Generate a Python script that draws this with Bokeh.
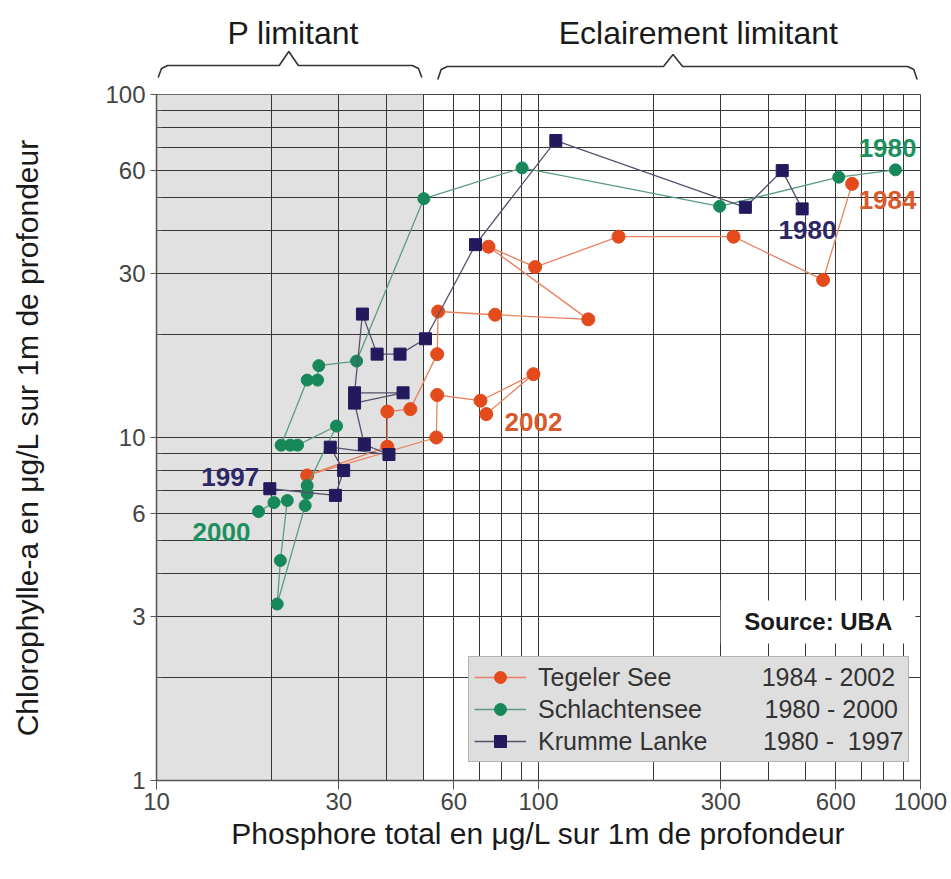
import math
from bokeh.plotting import figure
from bokeh.layouts import column
from bokeh.models import (Range1d, FixedTicker, BoxAnnotation, Label, Legend,
                          LegendItem, BasicTickFormatter)
from bokeh.embed import file_html
from bokeh.resources import INLINE

# ---------------- data ----------------
# Tegeler See 1984 -> 2002
teg_p = [662, 556, 324, 162, 98, 74, 135, 77, 54.6, 54.3, 46.2, 40.2, 40.2, 24.8, 54, 54.3, 70.5, 97, 73]
teg_chl = [54.9, 28.8, 38.5, 38.5, 31.4, 36.0, 22.1, 22.8, 23.3, 17.5, 12.1, 11.9, 9.4, 7.75, 10.0, 13.3, 12.8, 15.3, 11.7]
# Schlachtensee 1980 -> 2000
sch_p = [860, 611, 298, 90.6, 50.1, 33.4, 26.6, 26.4, 24.8, 21.2, 22.4, 23.4, 29.6, 24.8, 24.8, 24.5, 20.7, 21.1, 22.0, 20.3, 18.5]
sch_chl = [60.3, 57.4, 47.2, 61.1, 49.7, 16.7, 16.2, 14.7, 14.7, 9.5, 9.5, 9.5, 10.8, 7.24, 6.87, 6.33, 3.27, 4.38, 6.55, 6.46, 6.08]
# Krumme Lanke 1980 -> 1997
kru_p = [490, 434.5, 348, 111, 68.4, 50.6, 43.4, 37.8, 34.6, 33.0, 44.2, 33.0, 35.0, 40.6, 28.5, 30.9, 29.4, 19.8]
kru_chl = [46.4, 60.0, 46.9, 73.4, 36.5, 19.4, 17.5, 17.5, 22.9, 13.5, 13.5, 12.6, 9.54, 8.92, 9.37, 8.01, 6.78, 7.09]

series_names = ["Tegeler See", "Schlachtensee", "Krumme Lanke"]
series_years = ["1984 - 2002", "1980 - 2000", "1980 -  1997"]

x_ticks = [10, 30, 60, 100, 300, 600, 1000]
x_tick_labels = ["10", "30", "60", "100", "300", "600", "1000"]
y_ticks = [1, 3, 6, 10, 30, 60, 100]
y_tick_labels = ["1", "3", "6", "10", "30", "60", "100"]

p_limit_max = 50  # upper P value of the "P limitant" zone

FONT = "Liberation Sans"
C_TEG, C_TEG_L = "#e44b1c", "#e8825f"
C_SCH, C_SCH_L = "#17885a", "#5c9c80"
C_KRU, C_KRU_L = "#221a5c", "#55516e"

grid_x = [k * 10 ** e for e in (1, 2) for k in range(1, 10)] + [1000]
grid_y = [k * 10 ** e for e in (0, 1) for k in range(1, 10)] + [100]
y_minor = [g for g in grid_y if g not in y_ticks]

# ---------------- main plot ----------------
p = figure(width=951, height=799, x_axis_type="log", y_axis_type="log",
           x_range=Range1d(10, 1000), y_range=Range1d(1, 100),
           output_backend="svg", toolbar_location=None,
           min_border_left=156, min_border_right=31, min_border_top=14, min_border_bottom=99,
           background_fill_color="white", border_fill_color="white")
p.outline_line_color = "#444444"

p.add_layout(BoxAnnotation(left=10, right=p_limit_max, fill_color="#e1e1e1", fill_alpha=1,
                           line_color=None, level="image"))

p.xgrid.ticker = FixedTicker(ticks=grid_x)
p.ygrid.ticker = FixedTicker(ticks=grid_y)
for g in (p.xgrid, p.ygrid):
    g.grid_line_color = "#363636"
    g.grid_line_width = 1

xa = p.xaxis[0]
xa.ticker = FixedTicker(ticks=x_ticks, minor_ticks=[])
xa.formatter = BasicTickFormatter(use_scientific=False)
xa.major_label_overrides = {v: s for v, s in zip(x_ticks, x_tick_labels)}
xa.major_tick_in = 0
xa.major_tick_out = 9
xa.minor_tick_in = 0
xa.minor_tick_out = 0
xa.major_label_standoff = 3
xa.axis_label = "Phosphore total en μg/L sur 1m de profondeur"
xa.axis_label_standoff = 4

ya = p.yaxis[0]
ya.ticker = FixedTicker(ticks=y_ticks, minor_ticks=y_minor)
ya.formatter = BasicTickFormatter(use_scientific=False)
ya.major_label_overrides = {v: s for v, s in zip(y_ticks, y_tick_labels)}
ya.major_tick_in = 0
ya.major_tick_out = 6
ya.minor_tick_in = 5
ya.minor_tick_out = 0
ya.major_label_standoff = 5
ya.axis_label = "Chlorophylle-a en μg/L sur 1m de profondeur"
ya.axis_label_standoff = 58

for a in (xa, ya):
    a.axis_line_color = "#555555"
    a.axis_line_width = 1.5
    a.major_tick_line_color = "#555555"
    a.minor_tick_line_color = "#555555"
    a.major_label_text_font = FONT
    a.major_label_text_font_size = "24px"
    a.major_label_text_color = "#444444"
    a.axis_label_text_font = FONT
    a.axis_label_text_font_size = "30px"
    a.axis_label_text_font_style = "normal"
    a.axis_label_text_color = "#1a1a1a"

# white box behind the source note
p.quad(left=[300], right=[970], bottom=[2.51], top=[3.35], fill_color="white", line_color=None)
p.add_layout(Label(x=540, y=2.9, text="Source: UBA", text_font=FONT, text_font_size="24px",
                   text_font_style="bold", text_color="#1a1a1a", text_align="center",
                   text_baseline="middle"))

series = [(teg_p, teg_chl, C_TEG, C_TEG_L, "circle", 13),
          (sch_p, sch_chl, C_SCH, C_SCH_L, "circle", 12),
          (kru_p, kru_chl, C_KRU, C_KRU_L, "square", 12)]
items = []
for (xs, ys, c, cl, mk, sz), name, yrs in zip(series, series_names, series_years):
    lr = p.line(xs, ys, line_color=cl, line_width=1.3)
    sr = p.scatter(xs, ys, marker=mk, size=sz, fill_color=c, line_color=c)
    items.append((lr, sr, name, yrs))

# year labels
labels = [(15.6, 7.69, "1997", "#2c2766"),
          (14.8, 5.32, "2000", "#1e8f5e"),
          (97.0, 11.1, "2002", "#d8592c"),
          (506, 40.4, "1980", "#2c2766"),
          (820, 49.1, "1984", "#d8592c"),
          (820, 69.6, "1980", "#1e8f5e")]
for x, y, t, c in labels:
    p.add_layout(Label(x=x, y=y, text=t, text_font=FONT, text_font_size="26px",
                       text_font_style="bold", text_color=c, text_align="center",
                       text_baseline="middle"))

NB = "\u00a0"
pads = [13, 9, 8]
legend = Legend(items=[LegendItem(label=name + NB * pad + yrs, renderers=[lr, sr])
                       for (lr, sr, name, yrs), pad in zip(items, pads)],
                location=(312, 18), orientation="vertical",
                label_text_font=FONT, label_text_font_size="25px", label_text_color="#333333",
                label_height=30, glyph_height=30, glyph_width=52, spacing=2, padding=5,
                label_standoff=12, margin=0,
                background_fill_color="#dedede", background_fill_alpha=1,
                border_line_color="#8a8a8a", border_line_width=1.5)
p.add_layout(legend)

# ---------------- top band with braces ----------------
top = figure(width=951, height=80, x_axis_type="log", x_range=p.x_range,
             y_range=Range1d(80, 0), output_backend="svg", toolbar_location=None,
             x_axis_location=None, y_axis_location=None,
             min_border_left=156, min_border_right=31, min_border_top=0, min_border_bottom=0,
             background_fill_color="white", border_fill_color="white")
top.outline_line_color = None
top.grid.visible = False


def brace(x0, x1, xm, ybase, ytip, yend):
    l0, l1, lm = math.log10(x0), math.log10(x1), math.log10(xm)
    d = 0.025
    lx = [l0, l0 + d * 0.35, l0 + d, lm - d, lm, lm + d, l1 - d, l1 - d * 0.35, l1]
    ly = [yend, ybase + 3, ybase, ybase, ytip, ybase, ybase, ybase + 3, yend]
    return [10 ** v for v in lx], ly


bx, by = brace(10.1, 49.5, 22.2, 65, 51, 77)
top.line(bx, by, line_color="#333333", line_width=1.6)
bx, by = brace(54.5, 980, 225, 66, 54, 79)
top.line(bx, by, line_color="#333333", line_width=1.6)

top.add_layout(Label(x=22.8, y=32, text="P limitant", text_font=FONT, text_font_size="32px",
                     text_color="#1a1a1a", text_align="center", text_baseline="middle"))
top.add_layout(Label(x=262, y=32, text="Eclairement limitant", text_font=FONT,
                     text_font_size="32px", text_color="#1a1a1a", text_align="center",
                     text_baseline="middle"))

layout = column(top, p, spacing=0)
open("out.html", "w").write(file_html(layout, INLINE))
